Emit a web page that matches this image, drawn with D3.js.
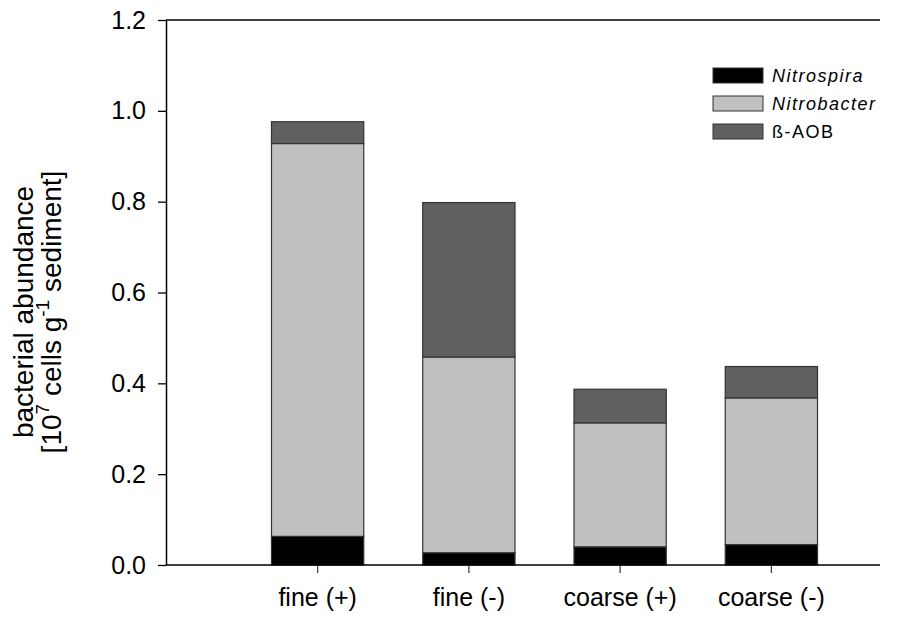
<!DOCTYPE html>
<html>
<head>
<meta charset="utf-8">
<script src="https://cdn.jsdelivr.net/npm/d3@7"></script>
<style>
  body { margin: 0; background: #fff; }
  text { font-family: Arial, "Liberation Sans", sans-serif; }
</style>
</head>
<body>
<script>
var width = 914
var height = 617

// data
var sites = ["fine (+)", "fine (-)", "coarse (+)", "coarse (-)"];
var nitrospira = [0.063, 0.027, 0.040, 0.045];
var nitrobacter = [0.865, 0.431, 0.273, 0.323];
var aob = [0.048, 0.340, 0.074, 0.069];
var seriesNames = ["Nitrospira", "Nitrobacter", "ß-AOB"];
var yTicks = [0, 0.2, 0.4, 0.6, 0.8, 1.0, 1.2];

var colors = ["#000000", "#c0c0c0", "#606060"];

var svg = d3.select("body").append("svg")
    .attr("width", width)
    .attr("height", height)

// plot frame
var plotLeft = 166, plotRight = 880, plotTop = 20, plotBottom = 565;

var x = d3.scaleBand()
    .domain(sites)
    .range([242, 847])
    .paddingInner(0.39)
    .paddingOuter(0.195)

var y = d3.scaleLinear()
    .domain([0, 1.2])
    .range([plotBottom, plotTop])

// stack the three series
var rows = sites.map(function(s, i) {
  return {site: s, "Nitrospira": nitrospira[i], "Nitrobacter": nitrobacter[i], "ß-AOB": aob[i]};
});
var stacked = d3.stack().keys(seriesNames)(rows);

var layers = svg.selectAll("g.layer")
  .data(stacked)
  .enter().append("g")
    .attr("class", "layer")
    .attr("fill", function(d, i) { return colors[i]; })

layers.selectAll("rect")
  .data(function(d) { return d; })
  .enter().append("rect")
    .attr("x", function(d) { return x(d.data.site); })
    .attr("width", x.bandwidth())
    .attr("y", function(d) { return y(d[1]); })
    .attr("height", function(d) { return y(d[0]) - y(d[1]); })
    .attr("stroke", "#333")
    .attr("stroke-width", 1.2)

// axes
var yAxis = svg.append("g")
    .attr("transform", "translate(" + plotLeft + ",0)")
    .call(d3.axisLeft(y).tickValues(yTicks).tickFormat(d3.format(".1f")).tickSize(8).tickPadding(12).tickSizeOuter(0))
yAxis.select(".domain").attr("stroke-width", 1.5)
yAxis.selectAll(".tick line").attr("stroke-width", 1.3)
yAxis.selectAll("text").style("font-size", "25px").attr("fill", "#000")

var xAxis = svg.append("g")
    .attr("transform", "translate(0," + plotBottom + ")")
    .call(d3.axisBottom(x).tickSize(8).tickPadding(15).tickSizeOuter(0))
xAxis.select(".domain").remove()
xAxis.selectAll(".tick line").attr("stroke", "#444").attr("stroke-width", 1.3)
xAxis.selectAll("text").style("font-size", "25px").attr("fill", "#000")

svg.append("line")
    .attr("x1", plotLeft).attr("x2", plotRight)
    .attr("y1", plotBottom).attr("y2", plotBottom)
    .attr("stroke", "#000").attr("stroke-width", 1.5)

svg.append("line")
    .attr("x1", plotLeft).attr("x2", plotRight)
    .attr("y1", plotTop).attr("y2", plotTop)
    .attr("stroke", "#000").attr("stroke-width", 1.5)

// y title
var title = svg.append("text")
    .attr("transform", "translate(33,312) rotate(-90)")
    .attr("text-anchor", "middle")
    .style("font-size", "28px")
title.append("tspan").attr("x", 0).attr("y", 0).text("bacterial abundance")
var t2 = title.append("tspan").attr("x", 0).attr("y", 28)
t2.append("tspan").text("[10")
t2.append("tspan").attr("dy", -12).style("font-size", "19px").text("7")
t2.append("tspan").attr("dy", 12).text("  cells g")
t2.append("tspan").attr("dy", -12).style("font-size", "19px").text("-1")
t2.append("tspan").attr("dy", 12).text("  sediment]")

// legend
var legend = svg.append("g")
var items = legend.selectAll("g")
  .data(seriesNames)
  .enter().append("g")
    .attr("transform", function(d, i) { return "translate(713," + (68 + i * 28) + ")"; })

items.append("rect")
    .attr("width", 50)
    .attr("height", 15)
    .attr("fill", function(d, i) { return colors[i]; })
    .attr("stroke", "#333")

items.append("text")
    .attr("x", 59)
    .attr("y", 14)
    .style("font-size", "18px")
    .style("letter-spacing", "1.5px")
    .style("font-style", function(d, i) { return i < 2 ? "italic" : "normal"; })
    .text(function(d) { return d; })
</script>
</body>
</html>
